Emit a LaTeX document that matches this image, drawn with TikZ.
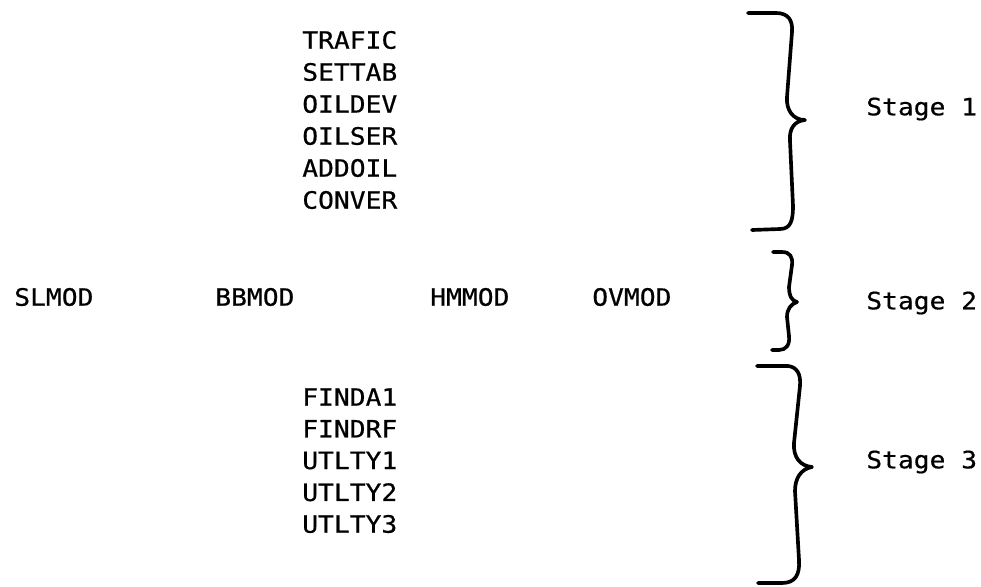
\documentclass[tikz,border=0pt]{standalone}
\usepackage{fontspec}
\newfontfamily\printfont[FakeStretch=1.1,FakeBold=0.6]{DejaVu Sans Mono}
\begin{document}
\begin{tikzpicture}[x=0.025cm,y=-0.025cm,every node/.style={font=\printfont\fontsize{17}{20}\selectfont,inner sep=0pt,anchor=west},
  curl/.style={line width=2.6pt,line cap=round,line join=round}]
\useasboundingbox (0,0) rectangle (981,586);
\foreach \name [count=\i] in {TRAFIC,SETTAB,OILDEV,OILSER,ADDOIL,CONVER}{\node (one\i) at (302,{40+32*(\i-1)}) {\name};}
\foreach \name/\x in {SLMOD/14,BBMOD/215,HMMOD/430,OVMOD/592}{\node (\name) at (\x,297) {\name};}
\foreach \name [count=\i] in {FINDA1,FINDRF,UTLTY1,UTLTY2,UTLTY3}{\node (three\i) at (302,{397+31.75*(\i-1)}) {\name};}
\node (stage1) at (866,109) {Stage 1};
\node (stage2) at (866,303) {Stage 2};
\node (stage3) at (866,462) {Stage 3};
\draw[curl] (748,13) -- (776,13) .. controls (788,13) and (793,20) .. (792,32) -- (787,97) .. controls (786,110) and (793,120) .. (805,120) .. controls (794,121) and (789,129) .. (790,141) -- (793,206) .. controls (793,220) and (791,229) .. (780,229) -- (752,230);
\draw[curl] (773,252) -- (782,252) .. controls (790,252) and (793,257) .. (792,265) -- (789,287) .. controls (789,296) and (792,301) .. (797,302) .. controls (791,304) and (787,309) .. (787,317) -- (789,336) .. controls (790,345) and (786,350) .. (779,350) -- (772,350);
\draw[curl] (757,366) -- (788,366) .. controls (797,367) and (801,374) .. (800,386) -- (794,443) .. controls (793,457) and (800,466) .. (812,467) .. controls (801,469) and (795,478) .. (795,491) -- (799,560) .. controls (800,575) and (795,583) .. (782,583) -- (758,583);
\end{tikzpicture}
\end{document}
